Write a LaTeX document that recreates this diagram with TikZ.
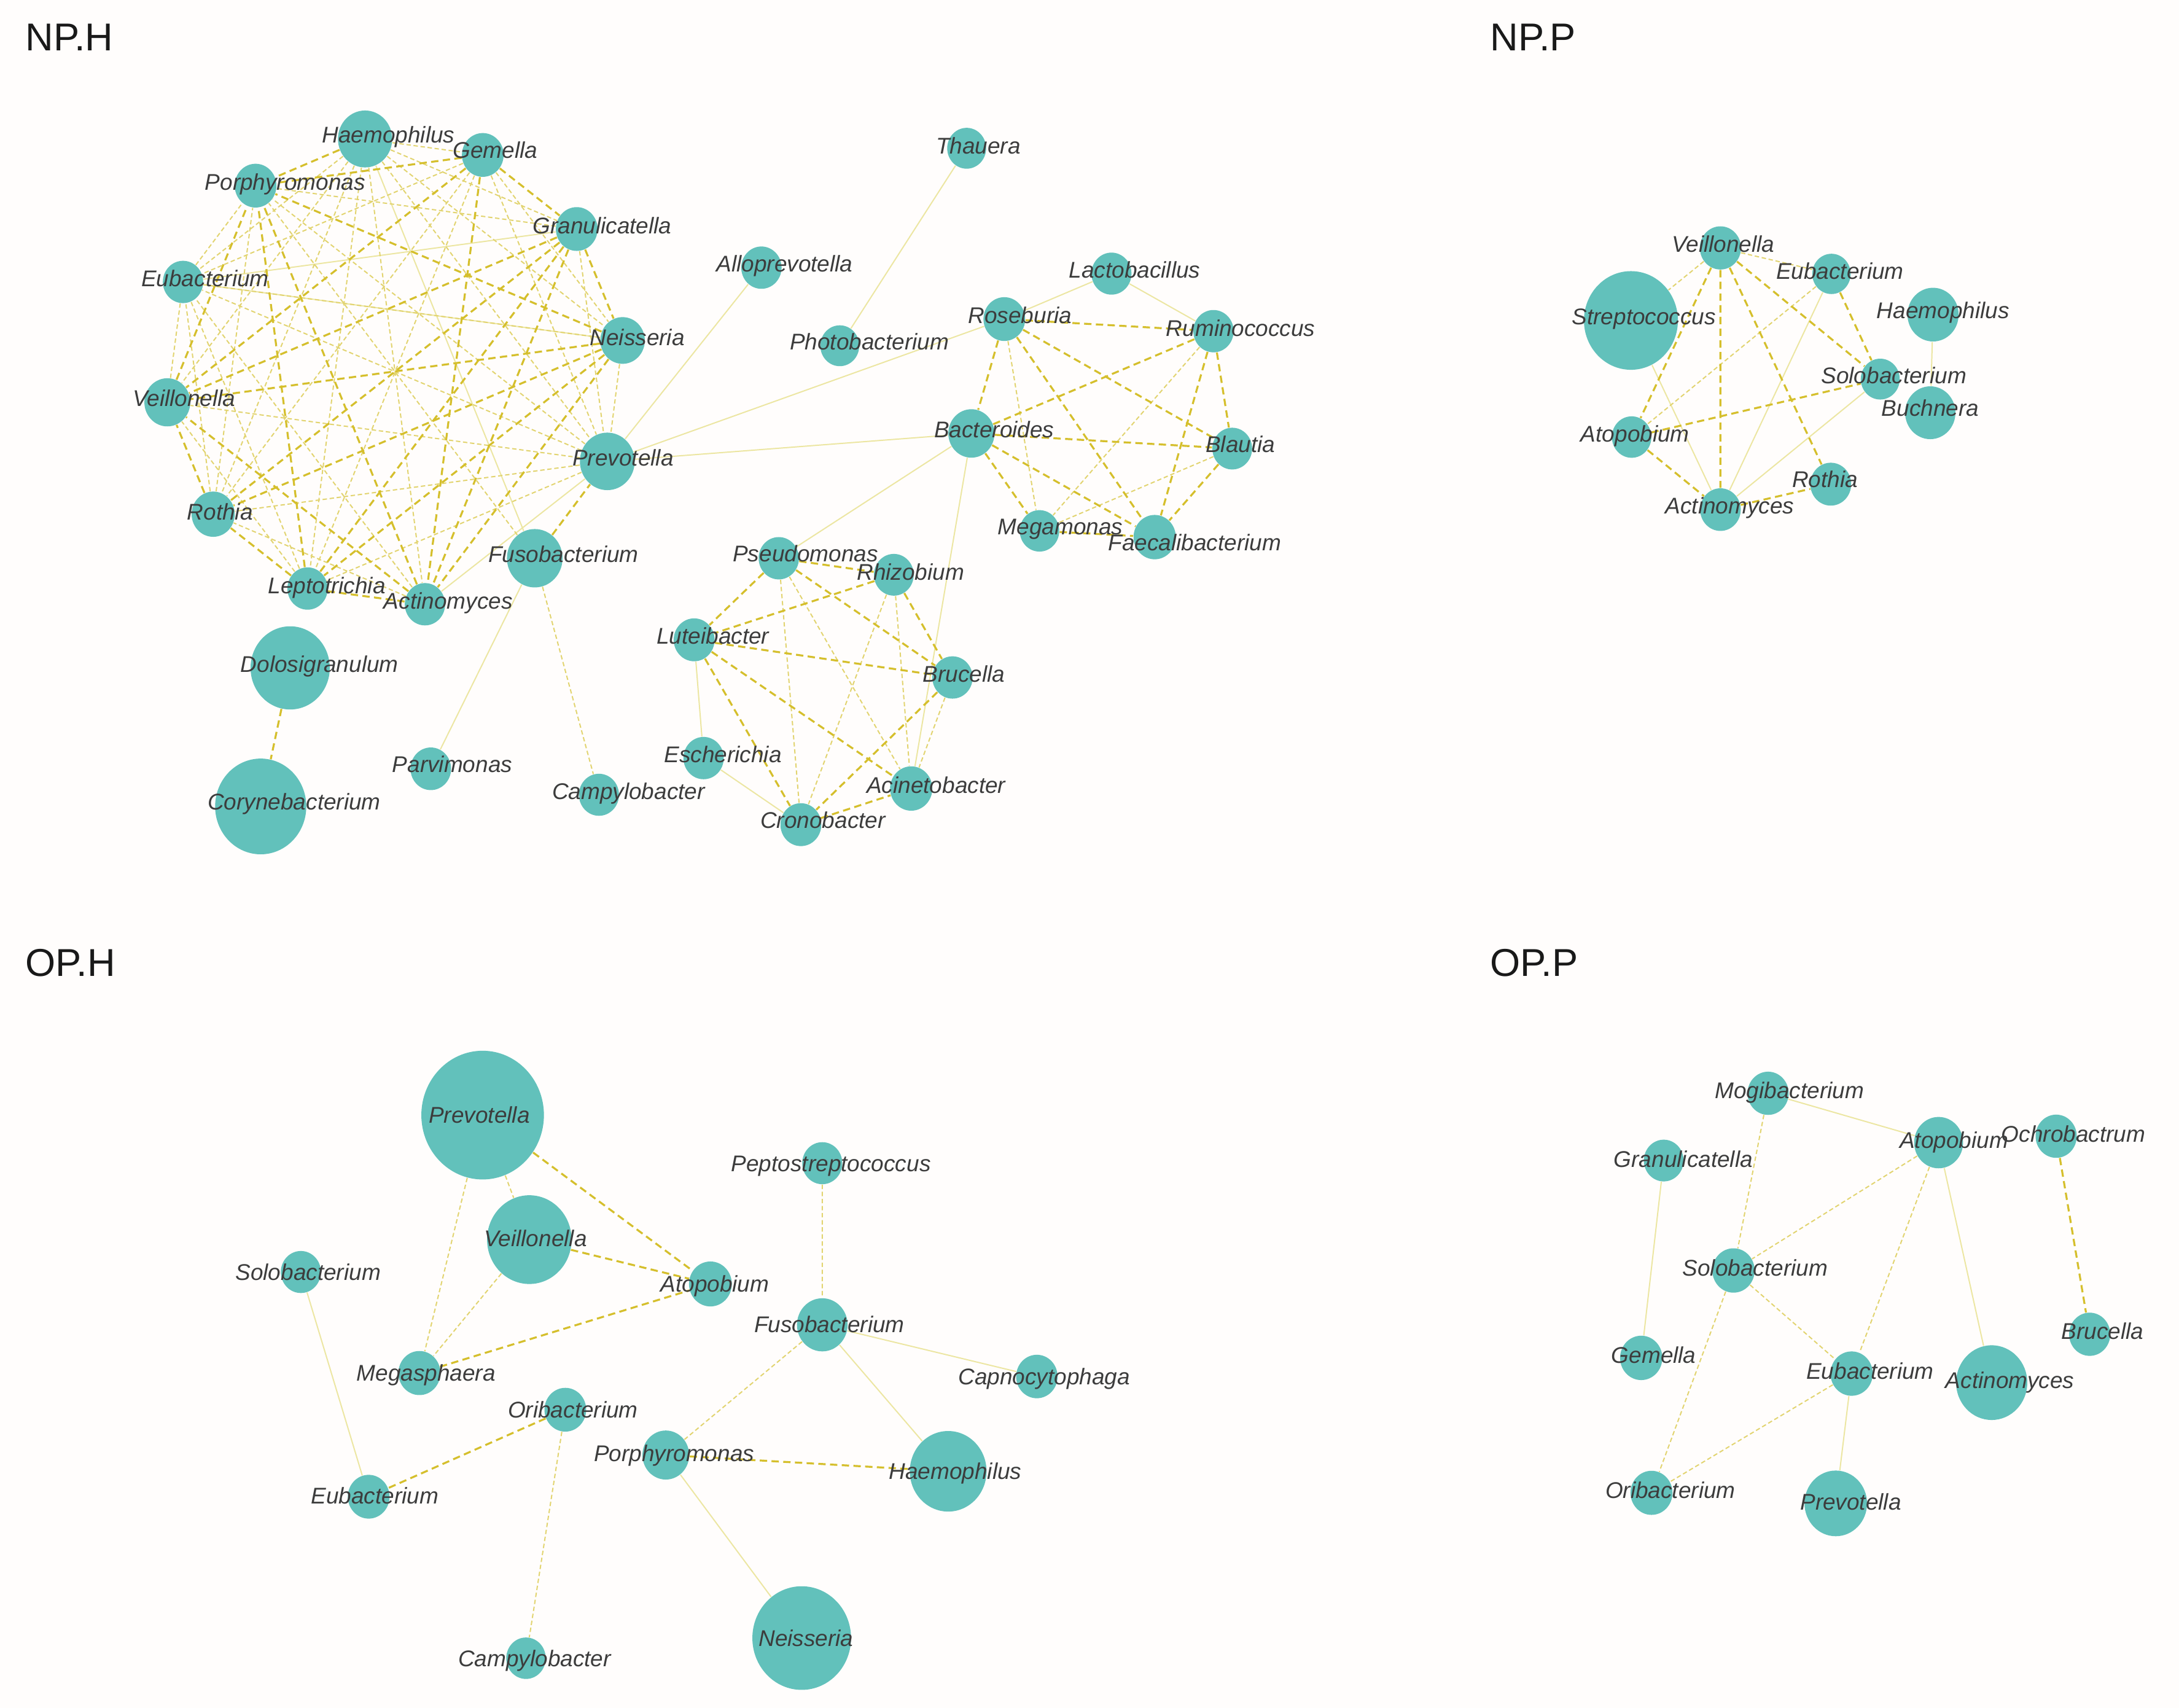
\documentclass[tikz,border=0pt]{standalone}
\usepackage{fontspec}
\setmainfont{Liberation Sans}
\usepackage{xcolor}
\definecolor{netBg}{HTML}{FFFDFC}
\definecolor{nodeTeal}{HTML}{62C1BB}
\definecolor{labelGray}{HTML}{3C3C3C}
\definecolor{linkGold}{HTML}{D5BF2C}
\definecolor{linkPale}{HTML}{E2D470}
\definecolor{linkFaint}{HTML}{ECE6A2}
\usepackage{tikz}
\usetikzlibrary{shapes.geometric,backgrounds}
\tikzset{
    bug/.style={
        ellipse,
        fill=nodeTeal,
        draw=none,
        inner sep=0pt,
        minimum width=#1*0.4mm,
        minimum height=#1*0.42mm
    },
    taxname/.style={
        font=\fontsize{9.3}{11}\selectfont\itshape,
        text=labelGray,
        text height=6.6pt,
        text depth=0pt,
        inner sep=0pt
    },
    panel/.style={
        font=\fontsize{15.9}{18}\selectfont,
        text=black!90,
        anchor=west,
        inner sep=0pt
    },
    goldlink/.style={
        draw=linkGold,
        line width=0.8pt,
        dash pattern=on 3pt off 1.8pt
    },
    palelink/.style={
        draw=linkPale,
        line width=0.5pt,
        dash pattern=on 1.8pt off 1.1pt
    },
    faintlink/.style={
        draw=linkFaint,
        line width=0.5pt
    }
}

\begin{document}
\begin{tikzpicture}[x=0.2mm, y=-0.2mm]
    \useasboundingbox (0,0) rectangle (1568,1229);

    % Panel titles
    \node[panel] (tNPH) at (18,27) {NP.H};
    \node[panel] (tNPP) at (1072,27) {NP.P};
    \node[panel] (tOPH) at (18,693) {OP.H};
    \node[panel] (tOPP) at (1072,693) {OP.P};

    % NP.H
    \node[bug=19.5] (nhHaem) at (262.7,100) {};
    \node[bug=15] (nhGeme) at (347.4,111.5) {};
    \node[bug=15] (nhPorp) at (183.9,133.6) {};
    \node[bug=15] (nhGran) at (415,164.8) {};
    \node[bug=14.5] (nhEuba) at (131.7,202.9) {};
    \node[bug=14.5] (nhAllo) at (547.9,192.6) {};
    \node[bug=14] (nhThau) at (695.6,106.7) {};
    \node[bug=16] (nhNeis) at (448,245) {};
    \node[bug=14] (nhPhot) at (604.3,248.8) {};
    \node[bug=15] (nhRose) at (722.7,229.6) {};
    \node[bug=14.4] (nhLact) at (799.8,196.9) {};
    \node[bug=14.5] (nhRumi) at (873.2,238.3) {};
    \node[bug=16.5] (nhVeil) at (120.4,289.5) {};
    \node[bug=19.7] (nhPrev) at (437,332) {};
    \node[bug=16.6] (nhBact) at (699,311.9) {};
    \node[bug=14.3] (nhBlau) at (886.7,322.8) {};
    \node[bug=15.5] (nhRoth) at (153.4,370) {};
    \node[bug=20] (nhFuso) at (384.8,401.7) {};
    \node[bug=14.2] (nhMega) at (748,382) {};
    \node[bug=15.2] (nhFaec) at (830.9,386.5) {};
    \node[bug=14.5] (nhPseu) at (560.4,401.7) {};
    \node[bug=14.3] (nhRhiz) at (643.2,413.6) {};
    \node[bug=14.5] (nhLept) at (221.3,423.5) {};
    \node[bug=14.5] (nhActi) at (305.8,434.8) {};
    \node[bug=14.7] (nhLute) at (499.5,460.4) {};
    \node[bug=14.5] (nhBruc) at (685.4,487.5) {};
    \node[bug=28.5] (nhDolo) at (208.8,480.6) {};
    \node[bug=32.8] (nhCory) at (187.6,580.3) {};
    \node[bug=14.6] (nhParv) at (310,553.2) {};
    \node[bug=14.4] (nhCamp) at (431,571.9) {};
    \node[bug=14.5] (nhEsch) at (506.3,545.5) {};
    \node[bug=15.2] (nhAcin) at (655.7,567.4) {};
    \node[bug=14.7] (nhCron) at (576.3,593.4) {};

    % NP.P
    \node[bug=14.8] (npVeil) at (1238,178.4) {};
    \node[bug=13.8] (npEuba) at (1317.9,197.1) {};
    \node[bug=33.8] (npStre) at (1173.6,230.6) {};
    \node[bug=18.4] (npHaem) at (1391,226.4) {};
    \node[bug=14] (npSolo) at (1353,272.8) {};
    \node[bug=18.1] (npBuch) at (1389,297) {};
    \node[bug=14.2] (npAtop) at (1174.1,314.5) {};
    \node[bug=14.7] (npRoth) at (1317.4,348.4) {};
    \node[bug=14.6] (npActi) at (1238,366.7) {};

    % OP.H
    \node[bug=44.1] (ohPrev) at (347.3,802.4) {};
    \node[bug=30.4] (ohVeil) at (380.9,892) {};
    \node[bug=14.4] (ohPept) at (591.7,837) {};
    \node[bug=14.4] (ohSolo) at (216.5,915.3) {};
    \node[bug=15.4] (ohAtop) at (511.2,923.9) {};
    \node[bug=18.2] (ohFuso) at (591.7,953.3) {};
    \node[bug=15.1] (ohMega) at (301.8,988) {};
    \node[bug=14.9] (ohCapn) at (746.1,990.5) {};
    \node[bug=15] (ohOrib) at (406.8,1014.4) {};
    \node[bug=16.8] (ohPorp) at (479.1,1047) {};
    \node[bug=27.6] (ohHaem) at (682.3,1058.7) {};
    \node[bug=15] (ohEuba) at (265.3,1077) {};
    \node[bug=14.2] (ohCamp) at (378.5,1193.2) {};
    \node[bug=35.5] (ohNeis) at (576.9,1178.7) {};

    % OP.P
    \node[bug=14.8] (opMogi) at (1272.3,786.7) {};
    \node[bug=14.3] (opGran) at (1197.2,835.1) {};
    \node[bug=17.6] (opAtop) at (1395,822.2) {};
    \node[bug=14.8] (opOchr) at (1479.6,817.6) {};
    \node[bug=15.2] (opSolo) at (1247.4,914.2) {};
    \node[bug=15.2] (opGeme) at (1181,977.1) {};
    \node[bug=14.8] (opBruc) at (1503.7,960.1) {};
    \node[bug=15.2] (opEuba) at (1332.4,988.4) {};
    \node[bug=25.6] (opActi) at (1433.2,994.9) {};
    \node[bug=15.1] (opOrib) at (1188.4,1074.2) {};
    \node[bug=22.5] (opPrev) at (1321,1081.8) {};

    % Names on top of the circles
    \node[taxname] (nhHaemT) at (279.5,96.8) {Haemophilus};
    \node[taxname] (nhGemeT) at (356.4,108.1) {Gemella};
    \node[taxname] (nhPorpT) at (205.2,131) {Porphyromonas};
    \node[taxname] (nhGranT) at (433.3,162.2) {Granulicatella};
    \node[taxname] (nhEubaT) at (147.6,200.2) {Eubacterium};
    \node[taxname] (nhAlloT) at (564.6,189.6) {Alloprevotella};
    \node[taxname] (nhThauT) at (704,104.8) {Thauera};
    \node[taxname] (nhNeisT) at (458.6,242.7) {Neisseria};
    \node[taxname] (nhPhotT) at (625.6,245.8) {Photobacterium};
    \node[taxname] (nhRoseT) at (734,227) {Roseburia};
    \node[taxname] (nhLactT) at (816.5,194) {Lactobacillus};
    \node[taxname] (nhRumiT) at (892.8,236) {Ruminococcus};
    \node[taxname] (nhVeilT) at (132.5,286.5) {Veillonella};
    \node[taxname] (nhPrevT) at (448.3,329.6) {Prevotella};
    \node[taxname] (nhBactT) at (715.4,309) {Bacteroides};
    \node[taxname] (nhBlauT) at (892.6,319.8) {Blautia};
    \node[taxname] (nhRothT) at (158.3,368.2) {Rothia};
    \node[taxname] (nhFusoT) at (405.4,399) {Fusobacterium};
    \node[taxname] (nhMegaT) at (763,378.9) {Megamonas};
    \node[taxname] (nhFaecT) at (859.7,390.4) {Faecalibacterium};
    \node[taxname] (nhPseuT) at (579.6,398.4) {Pseudomonas};
    \node[taxname] (nhRhizT) at (655.3,411.4) {Rhizobium};
    \node[taxname] (nhLeptT) at (235.2,421.3) {Leptotrichia};
    \node[taxname] (nhActiT) at (322.5,432.3) {Actinomyces};
    \node[taxname] (nhLuteT) at (513,457.6) {Luteibacter};
    \node[taxname] (nhBrucT) at (693.6,485.1) {Brucella};
    \node[taxname] (nhDoloT) at (229.9,478) {Dolosigranulum};
    \node[taxname] (nhCoryT) at (211.7,576.9) {Corynebacterium};
    \node[taxname] (nhParvT) at (325.5,549.8) {Parvimonas};
    \node[taxname] (nhCampT) at (452.3,569.3) {Campylobacter};
    \node[taxname] (nhEschT) at (520.2,543) {Escherichia};
    \node[taxname] (nhAcinT) at (673.6,565) {Acinetobacter};
    \node[taxname] (nhCronT) at (592.2,590.3) {Cronobacter};

    \node[taxname] (npVeilT) at (1240,175.6) {Veillonella};
    \node[taxname] (npEubaT) at (1324,194.9) {Eubacterium};
    \node[taxname] (npStreT) at (1183,227.9) {Streptococcus};
    \node[taxname] (npHaemT) at (1398.2,223.3) {Haemophilus};
    \node[taxname] (npSoloT) at (1362.8,270) {Solobacterium};
    \node[taxname] (npBuchT) at (1389,293.8) {Buchnera};
    \node[taxname] (npAtopT) at (1176.6,312) {Atopobium};
    \node[taxname] (npRothT) at (1313.3,345) {Rothia};
    \node[taxname] (npActiT) at (1244.7,363.8) {Actinomyces};

    \node[taxname] (ohPrevT) at (344.9,802.4) {Prevotella};
    \node[taxname] (ohVeilT) at (385.4,891) {Veillonella};
    \node[taxname] (ohPeptT) at (598,837) {Peptostreptococcus};
    \node[taxname] (ohSoloT) at (221.7,915.3) {Solobacterium};
    \node[taxname] (ohAtopT) at (514.4,923.9) {Atopobium};
    \node[taxname] (ohFusoT) at (596.8,953) {Fusobacterium};
    \node[taxname] (ohMegaT) at (306.6,988) {Megasphaera};
    \node[taxname] (ohCapnT) at (751.4,990.5) {Capnocytophaga};
    \node[taxname] (ohOribT) at (412.3,1014.4) {Oribacterium};
    \node[taxname] (ohPorpT) at (485.1,1046) {Porphyromonas};
    \node[taxname] (ohHaemT) at (687.4,1058.4) {Haemophilus};
    \node[taxname] (ohEubaT) at (269.7,1076.4) {Eubacterium};
    \node[taxname] (ohCampT) at (384.7,1193.2) {Campylobacter};
    \node[taxname] (ohNeisT) at (580,1178.7) {Neisseria};

    \node[taxname] (opMogiT) at (1287.7,784.8) {Mogibacterium};
    \node[taxname] (opGranT) at (1211.3,833.9) {Granulicatella};
    \node[taxname] (opAtopT) at (1406,820.2) {Atopobium};
    \node[taxname] (opOchrT) at (1492,816) {Ochrobactrum};
    \node[taxname] (opSoloT) at (1263,912.2) {Solobacterium};
    \node[taxname] (opGemeT) at (1190,975.3) {Gemella};
    \node[taxname] (opBrucT) at (1513,958) {Brucella};
    \node[taxname] (opEubaT) at (1345.7,986.5) {Eubacterium};
    \node[taxname] (opActiT) at (1446.3,993.2) {Actinomyces};
    \node[taxname] (opOribT) at (1202,1072.3) {Oribacterium};
    \node[taxname] (opPrevT) at (1331.8,1080.6) {Prevotella};

    \begin{pgfonlayer}{background}
        \fill[netBg] (0,0) rectangle (1568,1229);

        % faint links
        \draw[faintlink] (nhThau) -- (nhPhot) (nhAllo) -- (nhPrev) (nhRose) -- (nhPrev)
            (nhBact) -- (nhPrev) (nhBact) -- (nhPseu) (nhBact) -- (nhAcin)
            (nhLact) -- (nhRose) (nhLact) -- (nhRumi) (nhFuso) -- (nhParv)
            (nhLute) -- (nhEsch) (nhEsch) -- (nhCron) (nhFuso) -- (nhHaem)
            (nhActi) -- (nhPrev) (nhEuba) -- (nhGran) (nhEuba) -- (nhNeis);
        \draw[faintlink] (npHaem) -- (npBuch) (npEuba) -- (npActi) (npActi) -- (npSolo)
            (npStre) -- (npActi);
        \draw[faintlink] (ohSolo) -- (ohEuba) (ohFuso) -- (ohCapn) (ohFuso) -- (ohHaem)
            (ohPorp) -- (ohNeis);
        \draw[faintlink] (opMogi) -- (opAtop) (opGran) -- (opGeme) (opAtop) -- (opActi)
            (opEuba) -- (opPrev);

        % pale dashed links
        \draw[palelink] (nhHaem) -- (nhGeme) (nhHaem) -- (nhGran) (nhHaem) -- (nhNeis)
            (nhHaem) -- (nhPrev) (nhHaem) -- (nhActi) (nhHaem) -- (nhLept)
            (nhHaem) -- (nhRoth) (nhHaem) -- (nhVeil) (nhHaem) -- (nhEuba)
            (nhGeme) -- (nhNeis) (nhGeme) -- (nhPrev) (nhGeme) -- (nhLept)
            (nhGeme) -- (nhRoth) (nhGeme) -- (nhEuba)
            (nhGran) -- (nhPorp) (nhGran) -- (nhPrev)
            (nhNeis) -- (nhPrev) (nhNeis) -- (nhEuba)
            (nhPrev) -- (nhPorp) (nhPrev) -- (nhLept) (nhPrev) -- (nhRoth)
            (nhPrev) -- (nhVeil) (nhPrev) -- (nhEuba)
            (nhActi) -- (nhRoth) (nhActi) -- (nhEuba)
            (nhLept) -- (nhVeil) (nhLept) -- (nhEuba)
            (nhRoth) -- (nhPorp) (nhRoth) -- (nhEuba)
            (nhVeil) -- (nhEuba) (nhEuba) -- (nhPorp) (nhFuso) -- (nhPorp)
            (nhRose) -- (nhMega) (nhRumi) -- (nhMega) (nhBlau) -- (nhMega)
            (nhPseu) -- (nhCron) (nhPseu) -- (nhAcin) (nhRhiz) -- (nhAcin)
            (nhRhiz) -- (nhCron) (nhBruc) -- (nhAcin) (nhFuso) -- (nhCamp);
        \draw[palelink] (npVeil) -- (npStre) (npEuba) -- (npAtop) (npVeil) -- (npEuba);
        \draw[palelink] (ohPrev) -- (ohVeil) (ohPrev) -- (ohMega) (ohVeil) -- (ohMega)
            (ohOrib) -- (ohCamp) (ohPept) -- (ohFuso) (ohFuso) -- (ohPorp);
        \draw[palelink] (opMogi) -- (opSolo) (opAtop) -- (opSolo) (opAtop) -- (opEuba)
            (opSolo) -- (opEuba) (opSolo) -- (opOrib) (opEuba) -- (opOrib);

        % gold dashed links
        \draw[goldlink] (nhHaem) -- (nhPorp) (nhGeme) -- (nhPorp) (nhGeme) -- (nhGran)
            (nhGeme) -- (nhActi) (nhGeme) -- (nhVeil)
            (nhGran) -- (nhNeis) (nhGran) -- (nhActi) (nhGran) -- (nhLept)
            (nhGran) -- (nhRoth) (nhGran) -- (nhVeil)
            (nhNeis) -- (nhPorp) (nhNeis) -- (nhActi) (nhNeis) -- (nhLept)
            (nhNeis) -- (nhRoth) (nhNeis) -- (nhVeil)
            (nhActi) -- (nhPorp) (nhActi) -- (nhLept) (nhActi) -- (nhVeil)
            (nhLept) -- (nhPorp) (nhLept) -- (nhRoth) (nhRoth) -- (nhVeil)
            (nhVeil) -- (nhPorp) (nhFuso) -- (nhPrev)
            (nhRose) -- (nhRumi) (nhRose) -- (nhBact) (nhRumi) -- (nhBact)
            (nhBact) -- (nhBlau) (nhBact) -- (nhMega) (nhBact) -- (nhFaec)
            (nhRose) -- (nhFaec) (nhRose) -- (nhBlau) (nhRumi) -- (nhBlau)
            (nhRumi) -- (nhFaec) (nhBlau) -- (nhFaec) (nhMega) -- (nhFaec)
            (nhDolo) -- (nhCory)
            (nhPseu) -- (nhRhiz) (nhPseu) -- (nhLute) (nhPseu) -- (nhBruc)
            (nhRhiz) -- (nhBruc) (nhRhiz) -- (nhLute) (nhLute) -- (nhBruc)
            (nhLute) -- (nhCron) (nhLute) -- (nhAcin) (nhCron) -- (nhAcin)
            (nhBruc) -- (nhCron);
        \draw[goldlink] (npVeil) -- (npAtop) (npVeil) -- (npActi) (npVeil) -- (npRoth)
            (npVeil) -- (npSolo) (npEuba) -- (npSolo) (npAtop) -- (npSolo)
            (npAtop) -- (npActi) (npActi) -- (npRoth);
        \draw[goldlink] (ohPrev) -- (ohAtop) (ohVeil) -- (ohAtop) (ohMega) -- (ohAtop)
            (ohOrib) -- (ohEuba) (ohPorp) -- (ohHaem);
        \draw[goldlink] (opOchr) -- (opBruc);
    \end{pgfonlayer}
\end{tikzpicture}
\end{document}
